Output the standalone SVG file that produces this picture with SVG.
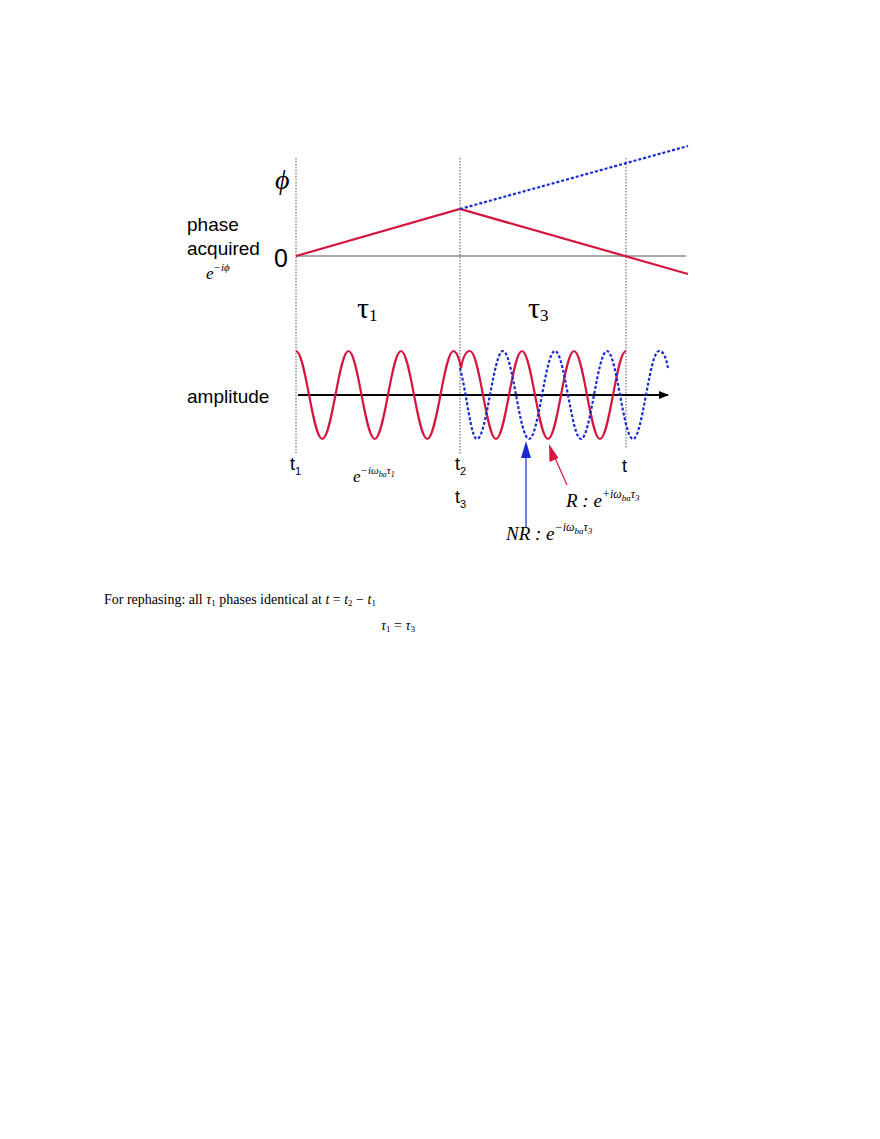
<svg xmlns="http://www.w3.org/2000/svg" width="880" height="1139" viewBox="0 0 880 1139">
<style>
.s{font-family:"Liberation Sans",Arial,sans-serif;fill:#000}
.m{font-family:"Liberation Serif","Times New Roman",serif;font-style:italic;fill:#000}
.r{font-family:"Liberation Serif","Times New Roman",serif;fill:#000}
.v{stroke:#555;stroke-width:1;stroke-dasharray:1.5,1.5;fill:none}
.red{stroke:#d6153f;stroke-width:2.2;fill:none}
.blue{stroke:#1a2bd6;stroke-width:2.2;fill:none;stroke-dasharray:3,2}
</style>
<defs>
<marker id="ak" markerWidth="10" markerHeight="8" refX="9" refY="4" orient="auto" markerUnits="userSpaceOnUse"><path d="M0,0 L10,4 L0,8 z" fill="#000"/></marker>
<marker id="ab" markerWidth="10" markerHeight="14" refX="5" refY="1" orient="auto-start-reverse" markerUnits="userSpaceOnUse"><path d="M0,14 L5,0 L10,14 z" fill="#1a2bd6" transform="rotate(90 5 7)"/></marker>
</defs>
<rect width="880" height="1139" fill="#fff"/>
<g id="connectors">
<line class="v" x1="296" y1="158" x2="296" y2="455"/>
<line class="v" x1="460" y1="158" x2="460" y2="455"/>
<line class="v" x1="626" y1="158" x2="626" y2="448"/>
<line x1="296" y1="256" x2="686" y2="256" stroke="#555" stroke-width="1.2"/>
<polyline class="red" points="296,256 460,209 688,274"/>
<line class="blue" x1="460" y1="209" x2="688" y2="146"/>
<line x1="298" y1="395" x2="668" y2="395" stroke="#000" stroke-width="2" marker-end="url(#ak)"/>
<path class="red" d="M296,351 C305.5,351 312.5,439 322.25,439 C332,439 339,351 348.5,351 C358,351 365,439 374.75,439 C384.5,439 391.5,351 401,351 C410.5,351 417.5,439 427.25,439 C437,439 444,351 453.5,351 Q458,352 461,368 Q464,351 470,351 C479.5,351 486.5,439 496,439 C505.5,439 512.5,351 522,351 C531.5,351 538.5,439 548,439 C557.5,439 564.5,351 574,351 C583.5,351 590.5,439 600,439 C609.5,439 616.5,351 626,351"/>
<path class="blue" d="M460,368 C467,395 471,439 477,439 C486.5,439 493.5,351 503,351 C512.5,351 519.5,439 529,439 C538.5,439 545.5,351 555,351 C564.5,351 571.5,439 581,439 C590.5,439 597.5,351 607,351 C616.5,351 623.5,439 633,439 C642.5,439 649.5,351 659,351 C664,351 666,358 668,368"/>
<line x1="526" y1="528" x2="526" y2="455" stroke="#1a2bd6" stroke-width="1.2"/>
<path d="M526,441 L521,458 L531,458 z" fill="#1a2bd6"/>
<line x1="567" y1="485" x2="555" y2="458" stroke="#d6153f" stroke-width="1.2"/>
<path d="M549,444 L549.5,462 L558.5,458 z" fill="#d6153f"/>
</g>
<g id="labels">
<text class="m" x="275" y="189" font-size="28">ϕ</text>
<text class="s" x="187" y="231" font-size="19">phase</text>
<text class="s" x="187" y="255" font-size="19">acquired</text>
<text class="s" x="274" y="267" font-size="25">0</text>
<text class="m" x="206" y="279" font-size="17">e<tspan font-size="11" dy="-8">−iϕ</tspan></text>
<text class="r" x="357" y="318" font-size="30">τ<tspan font-size="17" dy="3">1</tspan></text>
<text class="r" x="528" y="318" font-size="30">τ<tspan font-size="17" dy="3">3</tspan></text>
<text class="s" x="187" y="403" font-size="19">amplitude</text>
<text class="s" x="290" y="470" font-size="18">t<tspan font-size="11" dy="5">1</tspan></text>
<text class="m" x="353" y="482" font-size="17">e<tspan font-size="11" dy="-8">−iω<tspan font-size="8" dy="3">ba</tspan><tspan dy="-3">τ</tspan><tspan font-size="8" dy="3">1</tspan></tspan></text>
<text class="s" x="455" y="470" font-size="18">t<tspan font-size="11" dy="5">2</tspan></text>
<text class="s" x="455" y="503" font-size="18">t<tspan font-size="11" dy="5">3</tspan></text>
<text class="s" x="622" y="472" font-size="18">t</text>
<text class="m" x="566" y="507" font-size="19">R : e<tspan font-size="12" dy="-9">+iω<tspan font-size="9" dy="3">ba</tspan><tspan dy="-3">τ</tspan><tspan font-size="9" dy="3">3</tspan></tspan></text>
<text class="m" x="506" y="540" font-size="19">NR : e<tspan font-size="12" dy="-9">−iω<tspan font-size="9" dy="3">ba</tspan><tspan dy="-3">τ</tspan><tspan font-size="9" dy="3">3</tspan></tspan></text>
<text class="r" x="104" y="604" font-size="14">For rephasing: all  <tspan font-style="italic">τ</tspan><tspan font-size="9" dy="2">1</tspan><tspan dy="-2">  phases identical at  </tspan><tspan font-style="italic">t</tspan> = <tspan font-style="italic">t</tspan><tspan font-size="9" dy="2">2</tspan><tspan dy="-2"> − </tspan><tspan font-style="italic">t</tspan><tspan font-size="9" dy="2">1</tspan></text>
<text class="r" x="381" y="630" font-size="14"><tspan font-style="italic">τ</tspan><tspan font-size="9" dy="2">1</tspan><tspan dy="-2"> = </tspan><tspan font-style="italic">τ</tspan><tspan font-size="9" dy="2">3</tspan></text>
</g>
</svg>
